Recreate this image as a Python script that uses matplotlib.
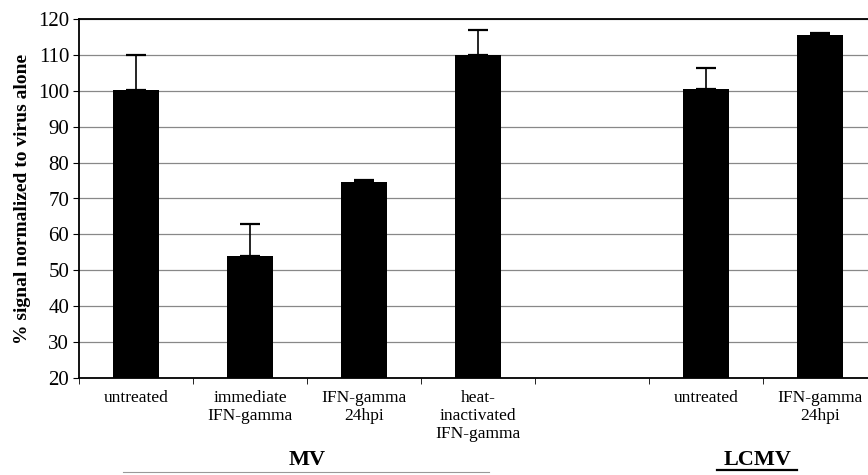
import matplotlib
matplotlib.use("Agg")
import matplotlib.pyplot as plt
import matplotlib.transforms as mtransforms
from matplotlib.lines import Line2D
import numpy as np

# data
labels = ["untreated", "immediate\nIFN-gamma", "IFN-gamma\n24hpi",
          "heat-\ninactivated\nIFN-gamma", "", "untreated", "IFN-gamma\n24hpi"]
values = [100.2, 54.0, 74.6, 110.1, np.nan, 100.4, 115.6]
errors = [9.8, 9.0, 0.6, 6.9, np.nan, 6.0, 0.5]
groups = ["MV", "LCMV"]

plt.rcParams["font.family"] = ["Liberation Serif", "DejaVu Serif"]

fig = plt.figure(figsize=(8.68, 4.75), dpi=100)
ax = fig.add_axes([79 / 868, 97 / 475, 798 / 868, 359 / 475])

x = np.arange(len(labels))
ax.bar(x, values, width=0.41, color="black", zorder=3)
ax.errorbar(x, values, yerr=[np.zeros(len(errors)), errors], fmt="none",
            ecolor="black", elinewidth=1.2, capsize=7, capthick=1.6, zorder=4)

ax.set_xlim(-0.5, len(labels) - 0.5)
ax.set_ylim(20, 120)
ax.set_yticks(np.arange(20, 121, 10))
ax.yaxis.grid(True, color="#888888", linewidth=0.9, zorder=0)
ax.set_axisbelow(True)

ax.set_xticks(x)
ax.set_xticklabels(labels, fontsize=12.5, linespacing=1.15)
ax.set_xticks(np.arange(-0.5, len(labels) - 0.5), minor=True)
ax.tick_params(axis="x", which="major", length=0, pad=9)
ax.tick_params(axis="x", which="minor", length=4, direction="out")
ax.tick_params(axis="y", labelsize=15, length=4, direction="out", pad=3)

for s in ["left", "bottom", "top"]:
    ax.spines[s].set_linewidth(1.3)
ax.spines["right"].set_visible(False)

ax.set_ylabel("% signal normalized to virus alone", fontsize=14,
              fontweight="bold", labelpad=5)

trans = mtransforms.blended_transform_factory(ax.transData, ax.transAxes)
ax.text(1.5, -0.228, groups[0], transform=trans, ha="center", va="center",
        fontsize=16, fontweight="bold")
ax.add_line(Line2D([-0.11, 3.1], [-0.263, -0.263], transform=trans,
                   color="#999999", linewidth=0.8, clip_on=False))
ax.text(5.45, -0.228, groups[1], transform=trans, ha="center", va="center",
        fontsize=16, fontweight="bold")
ax.add_line(Line2D([5.1, 5.8], [-0.255, -0.255], transform=trans,
                   color="black", linewidth=1.6, clip_on=False))

fig.savefig("out.png", dpi=100)
